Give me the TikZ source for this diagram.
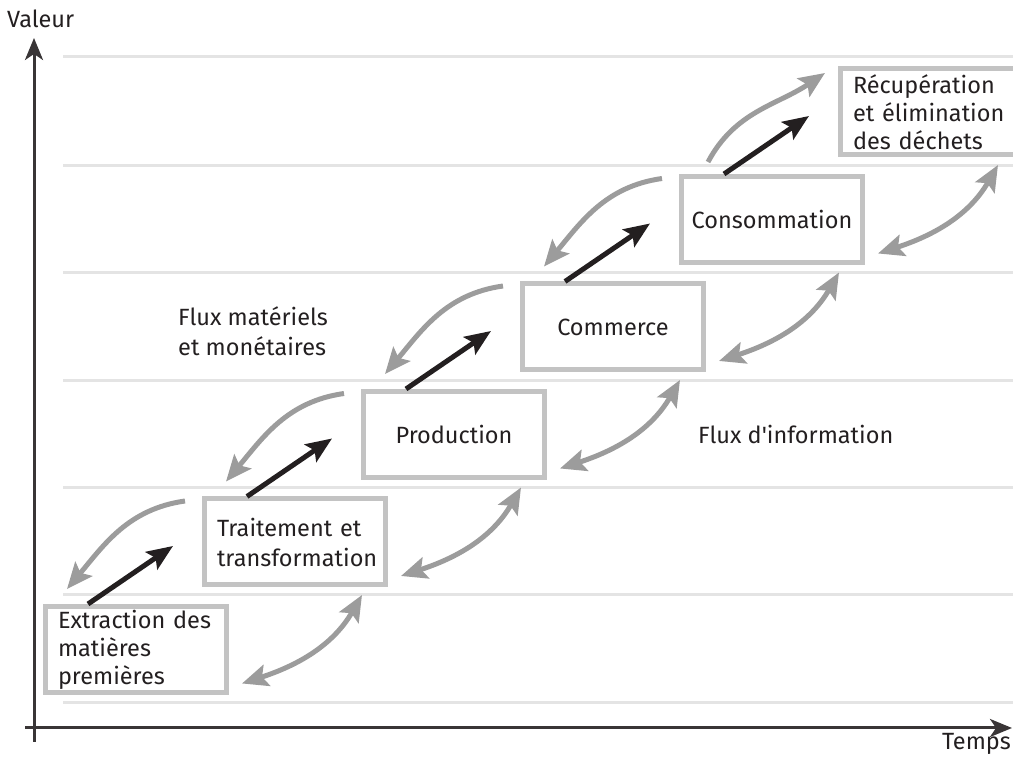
\documentclass[tikz,border=0pt]{standalone}
\usepackage{fontspec}
\setmainfont{Fira Sans}
\usetikzlibrary{arrows.meta}
\definecolor{boxgray}{HTML}{C3C3C3}
\definecolor{arrowgray}{HTML}{9C9C9C}
\definecolor{gridgray}{HTML}{E4E4E4}
\definecolor{inkblack}{HTML}{231F20}
\tikzset{
  every node/.style={font=\fontsize{23.5}{28}\selectfont, text=inkblack},
  stage/.style={draw=boxgray, line width=5pt, fill=white, inner sep=0pt,
    minimum width=181pt, minimum height=86pt},
  stageleft/.style={stage, inner xsep=12.5pt, text width=156pt, align=left},
  gridline/.style={gridgray, line width=3pt},
  axis/.style={inkblack!90, line width=3pt, -{Stealth[length=22pt,width=18pt,inset=6pt]}},
  goods/.style={inkblack, line width=5pt, -{Stealth[length=26pt,width=21pt,inset=5pt]}},
  money/.style={arrowgray, line width=5pt, -{Stealth[length=26pt,width=22pt,inset=5pt]}},
  info/.style={arrowgray, line width=5pt,
    {Stealth[length=26pt,width=22pt,inset=5pt]}-{Stealth[length=26pt,width=22pt,inset=5pt]}}
}
\begin{document}
\begin{tikzpicture}[x=1pt,y=1pt]
  \clip (0,0) rectangle (1013,759);
  % value levels
  \foreach \y in {56,164,271,378,486,593,702}
    \draw[gridline] (63,\y) -- (1013,\y);
  % axes
  \draw[axis] (34,17) -- (34,721);
  \draw[axis] (25,31) -- (1012,31);
  \node[anchor=base west, inner sep=0pt] (valeur) at (7,731) {Valeur};
  \node[anchor=base east, inner sep=0pt] (temps) at (1011,9) {Temps};
  % stages
  \node[stageleft] (ext) at (136,109.5) {Extraction des\\matières\\premières};
  \node[stageleft, font=\fontsize{23.5}{30}\selectfont] (trt) at (295,217)
    {Traitement et\\transformation};
  \node[stage] (prod) at (454,324.5) {Production};
  \node[stage] (comm) at (613,432) {Commerce};
  \node[stage] (cons) at (772,539.5) {Consommation};
  \node[stageleft] (recup) at (931,647) {Récupération\\et élimination\\des déchets};
  % flows between stages
  \foreach \a/\b in {ext/trt,trt/prod,prod/comm,comm/cons,cons/recup} {
    \draw[goods] ([xshift=-48]\a.north) -- ([shift={(-29,-4)}]\b.west);
    \draw[info] ([shift={(13,11.5)}]\a.south east) to[out=18,in=240]
      ([shift={(-26,-7.5)}]\b.south east);
  }
  \foreach \a/\b in {ext/trt,trt/prod,prod/comm,comm/cons}
    \draw[money] ([shift={(-17,-4.5)}]\b.north west) to[out=188,in=50]
      ([shift={(24,15)}]\a.north west);
  \draw[money] ([shift={(29,12)}]cons.north west) to[out=62,in=214]
    ([shift={(-13,-6.5)}]recup.north west);
  % labels
  \node[anchor=north west, inner sep=0pt, align=left,
    font=\fontsize{23.5}{30}\selectfont] (matflux) at (178,453)
    {Flux matériels\\et monétaires};
  \node[anchor=base west, inner sep=0pt] (infoflux) at (698,315)
    {Flux d\textquotesingle information};
\end{tikzpicture}
\end{document}
